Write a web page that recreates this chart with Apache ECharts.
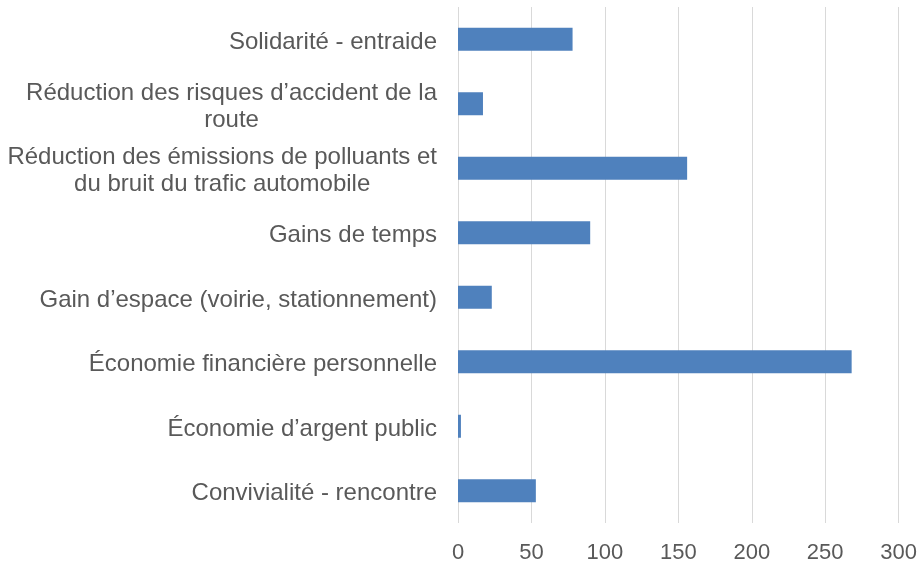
<!DOCTYPE html>
<html>
<head>
<meta charset="utf-8">
<script src="https://cdn.jsdelivr.net/npm/echarts@6/dist/echarts.min.js"></script>
<style>
  html, body { margin: 0; padding: 0; background: #fff; }
  #chart1 { width: 920px; height: 564px; }
</style>
</head>
<body>
<div id="chart1"></div>
<script>
// categories, top to bottom
const categories = [
    'Solidarité - entraide',
    'Réduction des risques d’accident de la\nroute',
    'Réduction des émissions de polluants et\ndu bruit du trafic automobile',
    'Gains de temps',
    'Gain d’espace (voirie, stationnement)',
    'Économie financière personnelle',
    'Économie d’argent public',
    'Convivialité - rencontre'
];
const values = [78, 17, 156, 90, 23, 268, 2, 53];
const xTicks = [0, 50, 100, 150, 200, 250, 300];

const fontFam = '"Liberation Sans", Arial, sans-serif';

const getOptionChart1 = () => {
    return {
        animation: false,
        backgroundColor: '#fff',
        grid: { left: 458, right: 19, top: 7, bottom: 38 },
        xAxis: {
            type: 'value',
            min: xTicks[0],
            max: xTicks[xTicks.length - 1],
            interval: xTicks[1] - xTicks[0],
            axisLine: { show: false },
            axisTick: { show: false },
            axisLabel: {
                color: '#595959',
                fontSize: 22,
                fontFamily: fontFam,
                margin: 19
            },
            splitLine: { lineStyle: { color: '#d9d9d9', width: 1 } }
        },
        yAxis: {
            type: 'category',
            inverse: true,
            data: categories,
            axisLine: { show: false },
            axisTick: { show: false },
            splitLine: { show: false },
            axisLabel: {
                margin: 21,
                padding: [6, 0, 0, 0],
                // each line centred inside the label block, like the original
                formatter: (v) => v.split('\n').map(l => '{c|' + l + '}').join('\n'),
                rich: {
                    c: {
                        align: 'center',
                        color: '#595959',
                        fontSize: 24,
                        lineHeight: 27,
                        fontFamily: fontFam
                    }
                }
            }
        },
        series: [
            {
                type: 'bar',
                data: values,
                barWidth: 23,
                itemStyle: { color: '#4f81bd' }
            }
        ]
    };
};

const initCharts = () => {
    const chart1 = echarts.init(document.getElementById('chart1'));
    chart1.setOption(getOptionChart1());
};

initCharts();
</script>
</body>
</html>
